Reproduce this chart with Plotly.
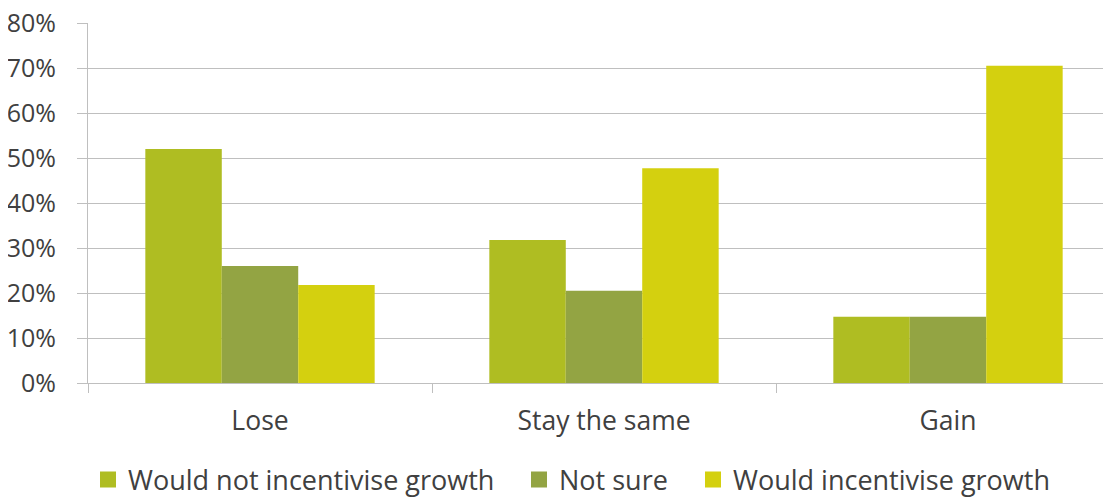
import plotly.graph_objects as go

categories = ["Lose", "Stay the same", "Gain"]
would_not = [52, 31.8, 14.7]
not_sure = [26, 20.5, 14.7]
would = [21.8, 47.7, 70.5]
series_names = ["Would not incentivise growth", "Not sure", "Would incentivise growth"]
colors = ["#AFBD22", "#93A443", "#D4D00F"]
y_ticks = [0, 10, 20, 30, 40, 50, 60, 70, 80]

W, H = 1111, 498
l, r, t, b = 80, 0, 15, 123
plot_w = W - l - r
plot_h = H - t - b
cat_px = 344
xmax = -0.5 + plot_w / cat_px

legend_ids = ["legend", "legend2", "legend3"]
legend_text_x = [128, 559, 733]  # screen x where legend text starts

fig = go.Figure()
for name, vals, col, lg in zip(series_names, [would_not, not_sure, would], colors, legend_ids):
    fig.add_trace(go.Bar(name=name, x=categories, y=vals, showlegend=False,
                         marker=dict(color=col, line=dict(width=0))))
    fig.add_trace(go.Scatter(name=name, x=[None], y=[None], mode="markers", legend=lg,
                             marker=dict(symbol="square", size=16, color=col), showlegend=True))

leg_y = -(472 - (t + plot_h)) / plot_h
legend_common = dict(orientation="h", xanchor="left", y=leg_y, yanchor="middle",
                     font=dict(size=27, color="#404040"), itemwidth=30,
                     bgcolor="rgba(0,0,0,0)")
layout_legends = {}
for lg, tx in zip(legend_ids, legend_text_x):
    left_fig = tx - 8 - 40
    layout_legends[lg] = dict(legend_common, x=(left_fig - l) / plot_w)

fig.update_layout(
    width=W, height=H,
    margin=dict(l=l, r=r, t=t, b=b, autoexpand=False),
    barmode="group", bargap=1/3, bargroupgap=0,
    plot_bgcolor="white", paper_bgcolor="white",
    font=dict(family="Open Sans", size=26, color="#404040"),
    **layout_legends,
)
fig.update_xaxes(type="category", range=[-0.5, xmax], showline=True, linecolor="#BFBFBF",
                 linewidth=1, ticks="outside", tickson="boundaries", ticklen=9,
                 tickcolor="#BFBFBF", showgrid=False, tickfont=dict(size=26.5, color="#404040"),
                 ticklabelstandoff=14, ticklabeloverflow="allow")
fig.update_yaxes(range=[0, 80], tickvals=y_ticks, ticktext=[f"{v}%" for v in y_ticks],
                 showgrid=True, gridcolor="#BFBFBF", gridwidth=1, showline=True,
                 linecolor="#BFBFBF", ticks="outside", ticklen=10, tickcolor="#BFBFBF",
                 zeroline=False, tickfont=dict(size=25, color="#404040"),
                 ticklabelstandoff=16, ticklabeloverflow="allow")

fig.write_html("out.html")
